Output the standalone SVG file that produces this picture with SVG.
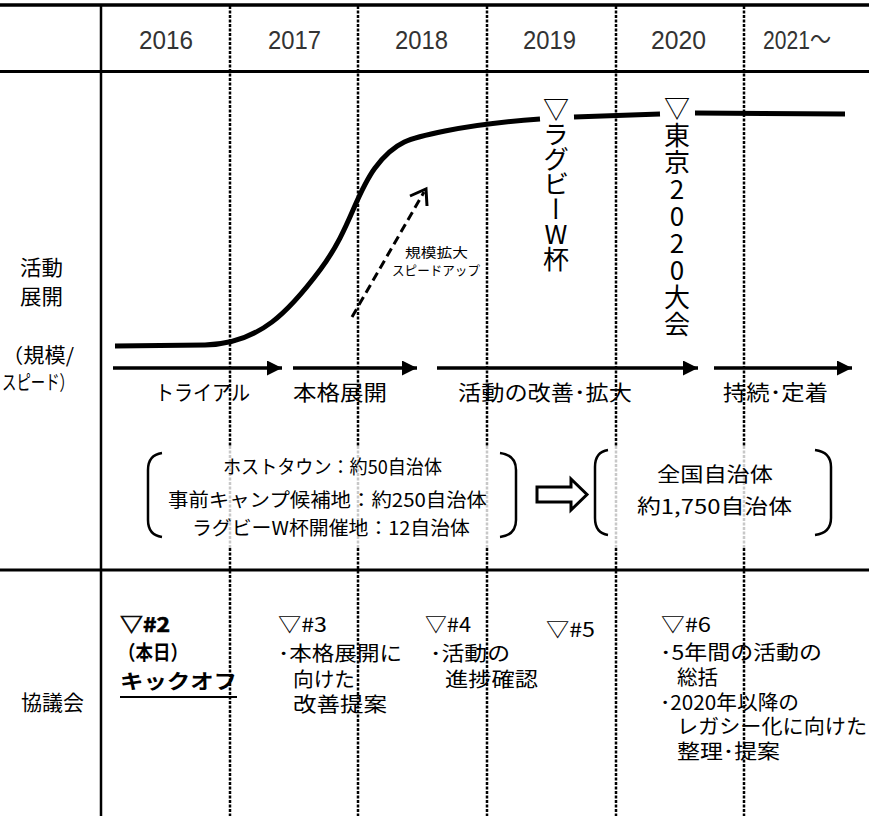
<svg xmlns="http://www.w3.org/2000/svg" width="869" height="816" viewBox="0 0 869 816">
<style>
.jp { font-family: "Noto Sans CJK JP", "Noto Sans", sans-serif; fill: #000; }
.yr { font-family: "Liberation Sans", "Noto Sans CJK JP", sans-serif; font-size: 26px; fill: #333; }
.f21 { font-size: 21px; }
.f20 { font-size: 20px; }
.f19 { font-size: 19px; }
.f13 { font-size: 13px; }
.b { font-weight: bold; }
.solid { stroke: #000; fill: none; }
.dot { stroke: #000; stroke-width: 2.5; stroke-dasharray: 3 1.5; fill: none; }
.dotl { stroke: #c8c8c8; stroke-width: 2.5; stroke-dasharray: 3 1.5; fill: none; }
.arr { stroke: #000; stroke-width: 3.5; fill: none; }
.paren { stroke: #000; stroke-width: 2.5; fill: none; }
.vt { writing-mode: vertical-rl; text-orientation: upright; font-size: 26px; }
</style>
<defs>
<marker id="ah" markerWidth="16" markerHeight="16" refX="15" refY="7.5" orient="auto" markerUnits="userSpaceOnUse">
<path d="M0,0 L15,7.5 L0,15 Z" fill="#000"/>
</marker>
</defs>
<rect width="869" height="816" fill="#fff"/>

<g id="grid">
<g id="dotted-dark">
<path class="dot" d="M230,6V446M358,6V446M487,6V446M616,6V446M744,6V446"/>
<path class="dot" d="M230,548V816M358,548V816M487,548V816M616,548V816M744,548V816"/>
</g>
<g id="dotted-light">
<path class="dotl" d="M230,446V548M358,446V548M487,446V548M616,446V548M744,446V548"/>
</g>
<path class="solid" stroke-width="3.5" d="M0,5H869"/>
<path class="solid" stroke-width="3" d="M0,71.5H869"/>
<path class="solid" stroke-width="3" d="M0,570H869"/>
<path class="solid" stroke-width="2.5" d="M101,4V816"/>
</g>

<g id="years">
<text class="yr" x="139" y="49" textLength="54" lengthAdjust="spacingAndGlyphs">2016</text>
<text class="yr" x="268" y="49" textLength="53" lengthAdjust="spacingAndGlyphs">2017</text>
<text class="yr" x="395" y="49" textLength="53" lengthAdjust="spacingAndGlyphs">2018</text>
<text class="yr" x="523" y="49" textLength="53" lengthAdjust="spacingAndGlyphs">2019</text>
<text class="yr" x="651" y="49" textLength="55" lengthAdjust="spacingAndGlyphs">2020</text>
<text class="yr" x="763" y="49" textLength="68" lengthAdjust="spacingAndGlyphs">2021～</text>
</g>

<g id="row-labels">
<text class="jp f21" x="20" y="275" textLength="43" lengthAdjust="spacingAndGlyphs">活動</text>
<text class="jp f21" x="20" y="304" textLength="43" lengthAdjust="spacingAndGlyphs">展開</text>
<text class="jp f20" x="2" y="363" textLength="72" lengthAdjust="spacingAndGlyphs">（規模/</text>
<text class="jp f20" x="2" y="390" textLength="72" lengthAdjust="spacingAndGlyphs">スピード）</text>
<text class="jp f21" x="21" y="710" textLength="63" lengthAdjust="spacingAndGlyphs">協議会</text>
</g>

<g id="s-curve">
<path class="solid" stroke-width="5" d="M115,346 L205,345 C260,344 290,310 320,270 S355,195 375,168 S410,138 445,131 S510,121 540,119"/>
<path class="solid" stroke-width="5" d="M574,117 L660,114"/>
<path class="solid" stroke-width="5" d="M695,113 L845,114"/>
</g>

<g id="event-rugby">
<text class="jp vt" x="556" y="96" letter-spacing="-1">▽ラグビーW杯</text>
</g>
<g id="event-tokyo">
<text class="jp vt" x="677" y="95" letter-spacing="1">▽東京2020大会</text>
</g>

<g id="scale-up">
<path stroke="#000" stroke-width="3" stroke-dasharray="9 5" fill="none" d="M352,317 L424,192"/>
<polyline points="410,196 426,189 427,206" stroke="#000" stroke-width="3" fill="none"/>
<text class="jp f13" x="405" y="257" textLength="63" lengthAdjust="spacingAndGlyphs">規模拡大</text>
<text class="jp f13" x="392" y="275" textLength="88" lengthAdjust="spacingAndGlyphs">スピードアップ</text>
</g>

<g id="connectors">
<line class="arr" x1="113" y1="368" x2="282" y2="368" marker-end="url(#ah)"/>
<line class="arr" x1="293" y1="368" x2="417" y2="368" marker-end="url(#ah)"/>
<line class="arr" x1="437" y1="368" x2="698" y2="368" marker-end="url(#ah)"/>
<line class="arr" x1="714" y1="368" x2="852" y2="368" marker-end="url(#ah)"/>
<polygon points="537,487 571,487 571,479 587,494.5 571,510 571,502 537,502" stroke="#000" stroke-width="3" fill="#fff"/>
</g>

<g id="phases">
<text class="jp f21" x="155" y="400" textLength="95" lengthAdjust="spacingAndGlyphs">トライアル</text>
<text class="jp f21" x="293" y="400" textLength="94" lengthAdjust="spacingAndGlyphs">本格展開</text>
<text class="jp f21" x="458" y="400" textLength="174" lengthAdjust="spacingAndGlyphs">活動の改善･拡大</text>
<text class="jp f21" x="723" y="400" textLength="105" lengthAdjust="spacingAndGlyphs">持続･定着</text>
</g>

<g id="current-targets">
<path class="paren" d="M162,453 Q148,455 148,470 L148,520 Q148,535 162,537"/>
<path class="paren" d="M500,453 Q516,455 516,470 L516,520 Q516,535 500,537"/>
<text class="jp f19" x="223" y="474" textLength="219" lengthAdjust="spacingAndGlyphs">ホストタウン：約50自治体</text>
<text class="jp f19" x="168" y="507" textLength="319" lengthAdjust="spacingAndGlyphs">事前キャンプ候補地：約250自治体</text>
<text class="jp f19" x="192" y="535" textLength="278" lengthAdjust="spacingAndGlyphs">ラグビーW杯開催地：12自治体</text>
</g>

<g id="future-targets">
<path class="paren" d="M608,450 Q595,452 595,467 L595,518 Q595,533 608,535"/>
<path class="paren" d="M815,450 Q831,452 831,467 L831,518 Q831,533 815,535"/>
<text class="jp f20" x="657" y="482" textLength="116" lengthAdjust="spacingAndGlyphs">全国自治体</text>
<text class="jp f20" x="637" y="514" textLength="155" lengthAdjust="spacingAndGlyphs">約1,750自治体</text>
</g>

<g id="meeting-2">
<text class="jp f20 b" x="120" y="632" textLength="50" lengthAdjust="spacingAndGlyphs" stroke="#000" stroke-width="0.6">▽#2</text>
<text class="jp f20 b" x="118" y="660" textLength="70" lengthAdjust="spacingAndGlyphs">（本日）</text>
<text class="jp f20 b" x="120" y="689" textLength="117" lengthAdjust="spacingAndGlyphs">キックオフ</text>
<path class="solid" stroke-width="1.8" d="M120,697H237"/>
</g>
<g id="meeting-3">
<text class="jp f20" x="278" y="632" textLength="49" lengthAdjust="spacingAndGlyphs">▽#3</text>
<text class="jp f20" x="278" y="661" textLength="124" lengthAdjust="spacingAndGlyphs">･本格展開に</text>
<text class="jp f20" x="293" y="687" textLength="62" lengthAdjust="spacingAndGlyphs">向けた</text>
<text class="jp f20" x="293" y="712" textLength="94" lengthAdjust="spacingAndGlyphs">改善提案</text>
</g>
<g id="meeting-4">
<text class="jp f20" x="425" y="632" textLength="46" lengthAdjust="spacingAndGlyphs">▽#4</text>
<text class="jp f20" x="430" y="661" textLength="80" lengthAdjust="spacingAndGlyphs">･活動の</text>
<text class="jp f20" x="445" y="687" textLength="93" lengthAdjust="spacingAndGlyphs">進捗確認</text>
</g>
<g id="meeting-5">
<text class="jp f20" x="546" y="637" textLength="49" lengthAdjust="spacingAndGlyphs">▽#5</text>
</g>
<g id="meeting-6">
<text class="jp f20" x="661" y="632" textLength="50" lengthAdjust="spacingAndGlyphs">▽#6</text>
<text class="jp f20" x="660" y="660" textLength="162" lengthAdjust="spacingAndGlyphs">･5年間の活動の</text>
<text class="jp f20" x="677" y="685" textLength="41" lengthAdjust="spacingAndGlyphs">総括</text>
<text class="jp f20" x="660" y="710" textLength="139" lengthAdjust="spacingAndGlyphs">･2020年以降の</text>
<text class="jp f20" x="677" y="734" textLength="190" lengthAdjust="spacingAndGlyphs">レガシー化に向けた</text>
<text class="jp f20" x="677" y="759" textLength="103" lengthAdjust="spacingAndGlyphs">整理･提案</text>
</g>
</svg>
